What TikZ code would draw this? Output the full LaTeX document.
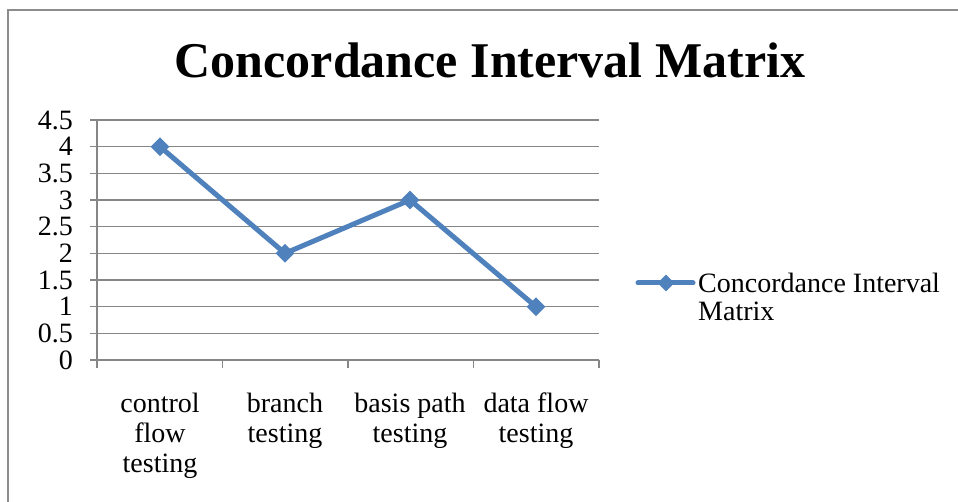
\documentclass[tikz,border=0pt]{standalone}
\usepackage{fontspec}
\setmainfont{Liberation Serif}
\usepackage{tikz}
\usetikzlibrary{shapes.geometric}
\definecolor{seriesblue}{RGB}{79,129,189}
\definecolor{gridgrey}{RGB}{134,134,134}
\definecolor{framegrey}{RGB}{140,140,140}

\begin{document}
\begin{tikzpicture}[
    x=1pt, y=-1pt,
    grid/.style={draw=gridgrey, line width=1.5pt},
    series/.style={draw=seriesblue, line width=5pt, line join=round},
    marker/.style={diamond, fill=seriesblue, inner sep=0pt, minimum width=19pt, minimum height=19pt},
    ticklabel/.style={anchor=east, inner sep=0pt, font=\fontsize{28}{30}\selectfont},
    catlabel/.style={anchor=north, inner sep=0pt, align=center, font=\fontsize{28}{30}\selectfont},
    title/.style={anchor=base, inner sep=0pt, font=\fontsize{50}{60}\selectfont\bfseries}
]
\useasboundingbox (0,0) rectangle (958,502);
\fill[white] (0,0) rectangle (958,502);
\draw[framegrey, line width=2.5pt] (958,10) -- (8,10) -- (8,502);

\node[title] (ttl) at (490,78) {Concordance Interval Matrix};

% value axis: 0 at y=360, 53.33 per unit
\foreach \v/\lab in {0/0, 0.5/0.5, 1/1, 1.5/1.5, 2/2, 2.5/2.5, 3/3, 3.5/3.5, 4/4, 4.5/4.5} {
    \draw[grid] (90,{360-53.33*\v}) -- (599,{360-53.33*\v});
    \node[ticklabel] (y\v) at (73,{360-53.33*\v}) {\lab};
}
\draw[grid] (97,120) -- (97,368);
\foreach \x in {222.5, 348, 473.5, 599} {
    \draw[grid] (\x,360) -- (\x,368);
}

% categories
\node[catlabel] (c1) at (160,393) {control\\flow\\testing};
\node[catlabel] (c2) at (285,393) {branch\\testing};
\node[catlabel] (c3) at (410,393) {basis path\\testing};
\node[catlabel] (c4) at (536,393) {data flow\\testing};

% data
\coordinate (p1) at (160,146.7);
\coordinate (p2) at (285,253.3);
\coordinate (p3) at (410,200);
\coordinate (p4) at (536,306.7);
\draw[series] (p1) -- (p2) -- (p3) -- (p4);
\foreach \p in {p1,p2,p3,p4} {
    \node[marker] (m\p) at (\p) {};
}

% legend
\coordinate (legL) at (638,283);
\coordinate (legR) at (693,283);
\draw[series, line cap=round] (legL) -- (legR);
\node[marker, minimum width=17pt, minimum height=17pt] (legM) at (666,283) {};
\node[anchor=north west, inner sep=0pt, align=left, font=\fontsize{28}{28}\selectfont] (legT) at (698,273) {Concordance Interval\\Matrix};
\end{tikzpicture}
\end{document}
